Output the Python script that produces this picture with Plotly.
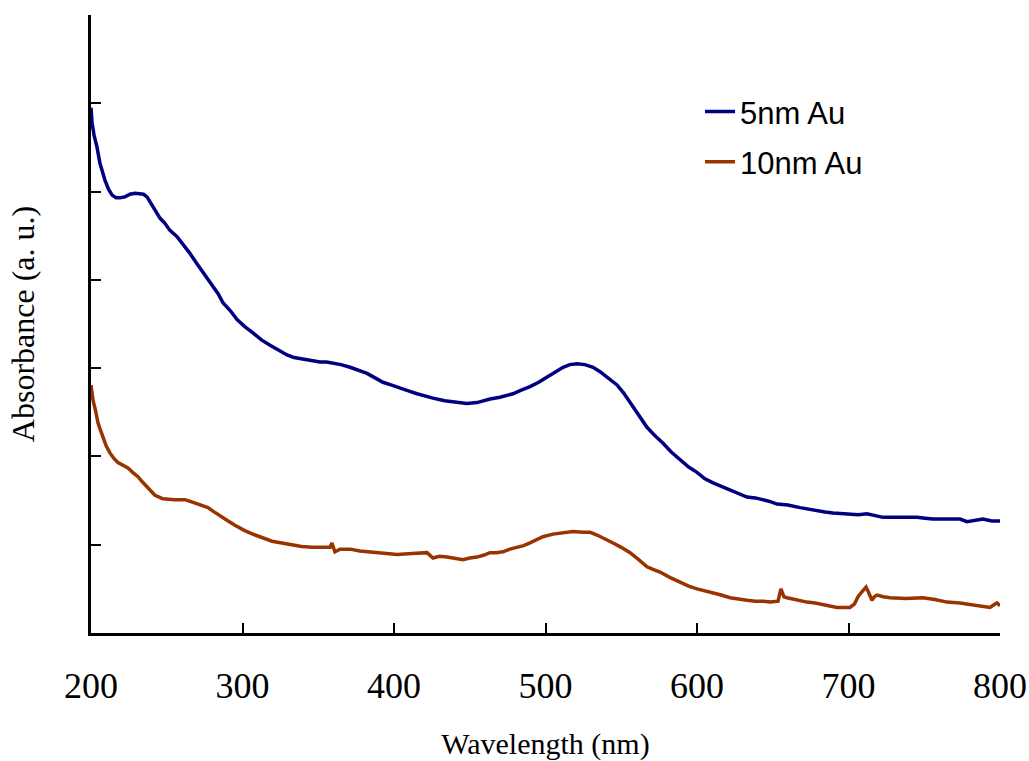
import plotly.graph_objects as go

# 5nm Au spectrum: wavelength (nm) and absorbance (a.u.)
wl_5nm = [200.0, 200.7, 202.0, 204.0, 205.9, 207.5, 209.2, 211.5, 213.9, 216.5,
          219.1, 222.4, 225.7, 229.0, 232.3, 234.6, 237.0, 240.3, 243.0, 245.5,
          248.8, 252.1, 256.8, 261.0, 265.3, 269.6, 273.9, 280.5, 284.0, 287.1,
          292.0, 296.4, 301.5, 306.9, 312.5, 318.2, 324.0, 329.4, 334.0, 338.0,
          344.5, 351.2, 355.5, 359.7, 365.0, 371.0, 376.5, 382.2, 387.5, 392.7,
          398.0, 404.0, 410.0, 415.2, 420.5, 425.7, 433.5, 441.6, 448.0, 454.8,
          459.0, 463.4, 470.0, 474.0, 478.5, 484.0, 489.8, 495.5, 501.0, 506.5,
          511.6, 516.0, 520.8, 526.0, 531.4, 536.0, 540.6, 547.2, 551.5, 555.8,
          561.5, 567.0, 572.5, 577.6, 583.0, 588.8, 594.5, 600.0, 605.0, 610.6,
          616.0, 621.8, 627.5, 633.0, 638.5, 643.6, 648.0, 652.8, 660.0, 668.0,
          673.5, 679.2, 684.5, 689.8, 695.5, 701.0, 706.5, 712.2, 717.5, 722.8,
          734.0, 745.2, 750.5, 755.8, 765.0, 773.6, 778.2, 783.5, 788.8, 794.5,
          800.0]
abs_5nm = [5.95, 5.78, 5.64, 5.50, 5.32, 5.22, 5.13, 5.03, 4.96, 4.93,
           4.93, 4.94, 4.97, 4.98, 4.97, 4.97, 4.94, 4.85, 4.78, 4.70,
           4.64, 4.56, 4.49, 4.40, 4.30, 4.19, 4.09, 3.92, 3.84, 3.74,
           3.65, 3.55, 3.47, 3.40, 3.32, 3.26, 3.20, 3.15, 3.12, 3.11,
           3.09, 3.07, 3.07, 3.06, 3.04, 3.01, 2.98, 2.94, 2.89, 2.84,
           2.81, 2.77, 2.74, 2.71, 2.68, 2.66, 2.63, 2.61, 2.60, 2.61,
           2.63, 2.65, 2.67, 2.69, 2.71, 2.75, 2.79, 2.84, 2.90, 2.96,
           3.01, 3.04, 3.05, 3.04, 3.01, 2.96, 2.90, 2.81, 2.72, 2.61,
           2.47, 2.33, 2.23, 2.15, 2.05, 1.96, 1.88, 1.82, 1.75, 1.70,
           1.66, 1.62, 1.58, 1.54, 1.53, 1.51, 1.49, 1.46, 1.45, 1.42,
           1.40, 1.38, 1.37, 1.36, 1.35, 1.35, 1.34, 1.35, 1.33, 1.31,
           1.31, 1.31, 1.30, 1.29, 1.29, 1.29, 1.26, 1.28, 1.29, 1.27,
           1.27]

# 10nm Au spectrum
wl_10nm = [200.0, 201.3, 203.0, 204.6, 206.2, 207.9, 210.0, 212.5, 215.0, 217.8,
           221.0, 224.4, 227.5, 231.0, 234.0, 237.0, 240.0, 242.2, 245.0, 247.5,
           255.0, 262.0, 265.5, 268.6, 273.0, 277.2, 280.5, 283.8, 289.5, 295.0,
           301.5, 308.3, 314.0, 319.5, 326.0, 332.7, 339.0, 345.9, 352.0, 357.8,
           359.0, 361.0, 364.4, 370.9, 377.5, 384.2, 393.0, 402.0, 412.0, 421.8,
           425.7, 430.0, 435.0, 440.0, 445.5, 450.0, 454.8, 459.0, 463.4, 467.5,
           471.9, 476.5, 481.2, 485.5, 489.8, 494.0, 498.3, 505.0, 511.6, 518.0,
           524.8, 529.5, 534.0, 539.0, 544.6, 550.0, 555.8, 561.5, 567.0, 571.0,
           575.6, 582.0, 588.8, 594.5, 600.0, 605.0, 610.6, 616.0, 621.8, 627.5,
           633.0, 638.5, 643.6, 648.5, 653.5, 655.4, 657.4, 659.4, 666.0, 672.6,
           678.0, 683.2, 688.0, 692.4, 697.0, 701.0, 704.0, 706.3, 709.0, 711.6,
           713.5, 715.5, 717.0, 718.8, 723.0, 727.4, 738.0, 749.2, 757.0, 765.0,
           773.5, 782.2, 788.0, 793.4, 796.0, 798.0, 800.0]
abs_10nm = [2.81, 2.64, 2.52, 2.38, 2.30, 2.22, 2.12, 2.04, 1.98, 1.93,
            1.90, 1.87, 1.82, 1.77, 1.71, 1.65, 1.60, 1.56, 1.54, 1.52,
            1.51, 1.51, 1.49, 1.47, 1.45, 1.42, 1.38, 1.34, 1.28, 1.22,
            1.16, 1.11, 1.07, 1.04, 1.02, 1.00, 0.98, 0.97, 0.97, 0.97,
            1.02, 0.92, 0.95, 0.95, 0.93, 0.92, 0.91, 0.89, 0.90, 0.91,
            0.85, 0.87, 0.86, 0.85, 0.83, 0.85, 0.86, 0.88, 0.91, 0.91,
            0.92, 0.95, 0.97, 0.99, 1.02, 1.05, 1.09, 1.12, 1.14, 1.15,
            1.14, 1.14, 1.11, 1.07, 1.02, 0.97, 0.91, 0.83, 0.75, 0.72,
            0.69, 0.63, 0.57, 0.53, 0.50, 0.48, 0.45, 0.43, 0.40, 0.38,
            0.37, 0.36, 0.36, 0.35, 0.36, 0.50, 0.41, 0.40, 0.37, 0.35,
            0.34, 0.32, 0.31, 0.29, 0.29, 0.29, 0.33, 0.41, 0.47, 0.52,
            0.45, 0.37, 0.41, 0.43, 0.41, 0.40, 0.39, 0.40, 0.38, 0.35,
            0.34, 0.32, 0.31, 0.29, 0.32, 0.34, 0.31]

x_ticks = [200, 300, 400, 500, 600, 700, 800]
series_names = ["5nm Au", "10nm Au"]

fig = go.Figure()
fig.add_trace(go.Scatter(x=wl_5nm, y=abs_5nm, mode="lines", name=series_names[0],
                         legendgroup="a", line=dict(color="#000080", width=3.5)))
fig.add_trace(go.Scatter(x=wl_10nm, y=abs_10nm, mode="lines", name=series_names[1],
                         legendgroup="b", line=dict(color="#993300", width=3.5)))

serif = "Liberation Serif, Times New Roman, serif"
fig.update_layout(
    width=1029, height=761,
    margin=dict(l=91, r=29, t=15, b=128, autoexpand=False),
    paper_bgcolor="white", plot_bgcolor="white",
    showlegend=True,
    legend=dict(x=0.67, y=0.887, xanchor="left", yanchor="top",
                font=dict(family="Liberation Sans, Arial, sans-serif", size=31, color="black"),
                bgcolor="rgba(0,0,0,0)", tracegroupgap=7),
    xaxis=dict(range=[200, 800], tickvals=x_ticks, ticktext=[str(t) for t in x_ticks],
               ticks="inside", ticklen=10, tickwidth=2, tickcolor="black",
               showline=True, linecolor="black", linewidth=2.5,
               showgrid=False, zeroline=False, ticklabelstandoff=19, automargin=False,
               tickfont=dict(family=serif, size=36, color="black"),
               title=dict(text="Wavelength (nm)", standoff=45,
                          font=dict(family=serif, size=30, color="black"))),
    yaxis=dict(range=[0, 7], dtick=1, tick0=0, showticklabels=False,
               ticks="inside", ticklen=10, tickwidth=2, tickcolor="black",
               showline=True, linecolor="black", linewidth=2.5,
               showgrid=False, zeroline=False, automargin=False,
               title=dict(text="Absorbance (a. u.)", standoff=45,
                          font=dict(family=serif, size=32, color="black"))),
)

fig.write_html(
    "out.html",
    config={"displayModeBar": False},
    post_script="document.body.style.margin='0';document.body.style.overflow='hidden';",
)
